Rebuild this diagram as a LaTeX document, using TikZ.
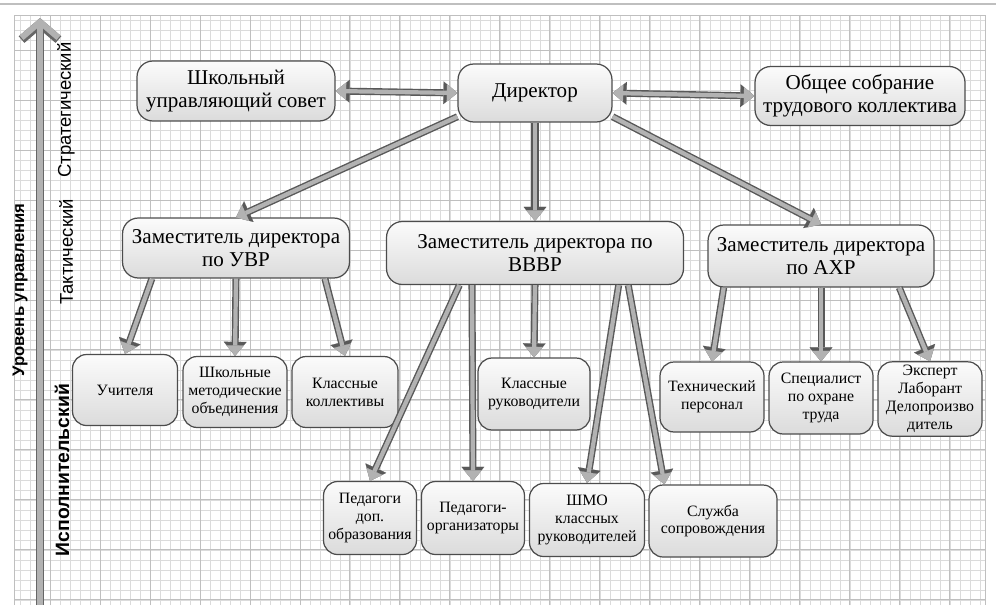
\documentclass[tikz,border=0pt]{standalone}
\usepackage{fontspec}
\setmainfont{Liberation Serif}
\newfontfamily\lvlfont{Liberation Sans}
\usetikzlibrary{arrows.meta}
\tikzset{
	blk/.style={draw=black!70, line width=0.7pt, rounded corners=9pt, top color=gray!3, bottom color=gray!28, align=center, inner sep=2pt, font=\fontsize{12}{13}\selectfont},
	sblk/.style={blk, rounded corners=8pt, font=\fontsize{9}{10.2}\selectfont},
	arr/.style={draw=gray!60, line width=2.4pt, -{Triangle[length=6pt,width=10pt,line width=0.1pt]}, preaction={draw=black!65, line width=4pt, -{Triangle[length=8pt,width=13pt,line width=0.1pt]}}},
	darr/.style={draw=gray!60, line width=2.4pt, {Triangle[length=6pt,width=10pt,line width=0.1pt]}-{Triangle[length=6pt,width=10pt,line width=0.1pt]}, preaction={draw=black!65, line width=4pt, {Triangle[length=8pt,width=13pt,line width=0.1pt]}-{Triangle[length=8pt,width=13pt,line width=0.1pt]}}},
	lvl/.style={rotate=90, font=\lvlfont\fontsize{10.5}{12}\selectfont}
}

\begin{document}
\begin{tikzpicture}[x=0.02cm, y=-0.02cm]
		%%%%% PAPER %%%%%
		\useasboundingbox (0, 0) rectangle (996, 605);
		\draw[gray!50, line width=0.8pt] (0, 4) -- (996, 4);
		\draw[gray!28, line width=0.3pt, step=0.2cm] (14, 15) grid (985, 605);
		\draw[gray!50, line width=0.5pt, step=1cm] (14, 15) grid (985, 605);
		\draw[gray!50, line width=0.5pt] (14, 605) -- (14, 15) -- (985, 15) -- (985, 605);
		
		%%%%% LEVELS %%%%%
		\coordinate (axbot) at (40, 605);
		\coordinate (axtop) at (40, 18);
		\draw[draw=gray!60, line width=3.4pt, -{Straight Barb[length=9pt,width=21pt]}, preaction={draw=black!60, line width=5pt, -{Straight Barb[length=9pt,width=21pt]}}] (axbot) -- (axtop);
		\node[lvl, font=\lvlfont\bfseries\fontsize{9.5}{11}\selectfont] (lvlname) at (20, 290) {Уровень управления};
		\node[lvl] (lvlstrat) at (66, 110) {Стратегический};
		\node[lvl] (lvltakt) at (66, 252) {Тактический};
		\node[lvl, font=\lvlfont\bfseries\fontsize{11}{12}\selectfont] (lvlisp) at (62, 470) {Исполнительский};
		
		%%%%% TOP %%%%%
		\node[blk, minimum width=3.96cm, minimum height=1.2cm] (sovet) at (236, 91) {Школьный\\управляющий совет};
		\node[blk, minimum width=3.08cm, minimum height=1.16cm] (dir) at (535, 93) {Директор};
		\node[blk, minimum width=4.2cm, minimum height=1.18cm] (sobr) at (860, 96) {Общее собрание\\трудового коллектива};
		
		%%%%% DEPUTIES %%%%%
		\node[blk, minimum width=4.54cm, minimum height=1.2cm] (zuvr) at (236, 248) {Заместитель директора\\по УВР};
		\node[blk, minimum width=5.94cm, minimum height=1.26cm] (zvr) at (535, 253) {Заместитель директора по\\ВВВР};
		\node[blk, minimum width=4.52cm, minimum height=1.24cm] (zahr) at (821, 256) {Заместитель директора\\по АХР};
		
		%%%%% STAFF %%%%%
		\node[sblk, minimum width=2.1cm, minimum height=1.42cm] (uch) at (125, 390) {Учителя};
		\node[sblk, minimum width=2.08cm, minimum height=1.42cm] (shmo) at (235, 392) {Школьные\\методические\\объединения};
		\node[sblk, minimum width=2.12cm, minimum height=1.42cm] (klkol) at (345, 392) {Классные\\коллективы};
		\node[sblk, minimum width=2.24cm, minimum height=1.44cm] (klruk) at (534, 394) {Классные\\руководители};
		\node[sblk, minimum width=2.08cm, minimum height=1.4cm] (tech) at (712, 397) {Технический\\персонал};
		\node[sblk, minimum width=2.08cm, minimum height=1.44cm] (spec) at (821, 398) {Специалист\\по охране\\труда};
		\node[sblk, minimum width=2.08cm, minimum height=1.4cm] (eksp) at (930, 399) {Эксперт\\Лаборант\\Делопроизво\\дитель};
		\node[sblk, minimum width=1.86cm, minimum height=1.46cm] (pdop) at (370, 518) {Педагоги\\доп.\\образования};
		\node[sblk, minimum width=2.06cm, minimum height=1.46cm] (porg) at (473, 518) {Педагоги-\\организаторы};
		\node[sblk, minimum width=2.3cm, minimum height=1.46cm] (shmokl) at (587, 520) {ШМО\\классных\\руководителей};
		\node[sblk, minimum width=2.56cm, minimum height=1.44cm] (sluzh) at (713, 521) {Служба\\сопровождения};
		
		%%%%% ARROWS %%%%%
		\draw[darr] (sovet.east) -- (dir.west);
		\draw[darr] (dir.east) -- (sobr.west);
		\draw[arr] (dir.197) -- (zuvr.north);
		\draw[arr] (dir.south) -- (zvr.north);
		\draw[arr] (dir.-17) -- (zahr.north);
		
		\draw[arr] (zuvr.200) -- (uch.north);
		\draw[arr] (zuvr.south) -- (shmo.north);
		\draw[arr] (zuvr.-19) -- (klkol.north);
		
		\draw[arr] (zvr.203) -- (pdop.north);
		\draw[arr] (zvr.207) -- (porg.north);
		\draw[arr] (zvr.south) -- (klruk.north);
		\draw[arr] (zvr.-21) -- (shmokl.north);
		\draw[arr] (zvr.-19) -- (sluzh.143);
		
		\draw[arr] (zahr.198) -- (tech.north);
		\draw[arr] (zahr.south) -- (spec.north);
		\draw[arr] (zahr.-22) -- (eksp.north);
\end{tikzpicture}
\end{document}
